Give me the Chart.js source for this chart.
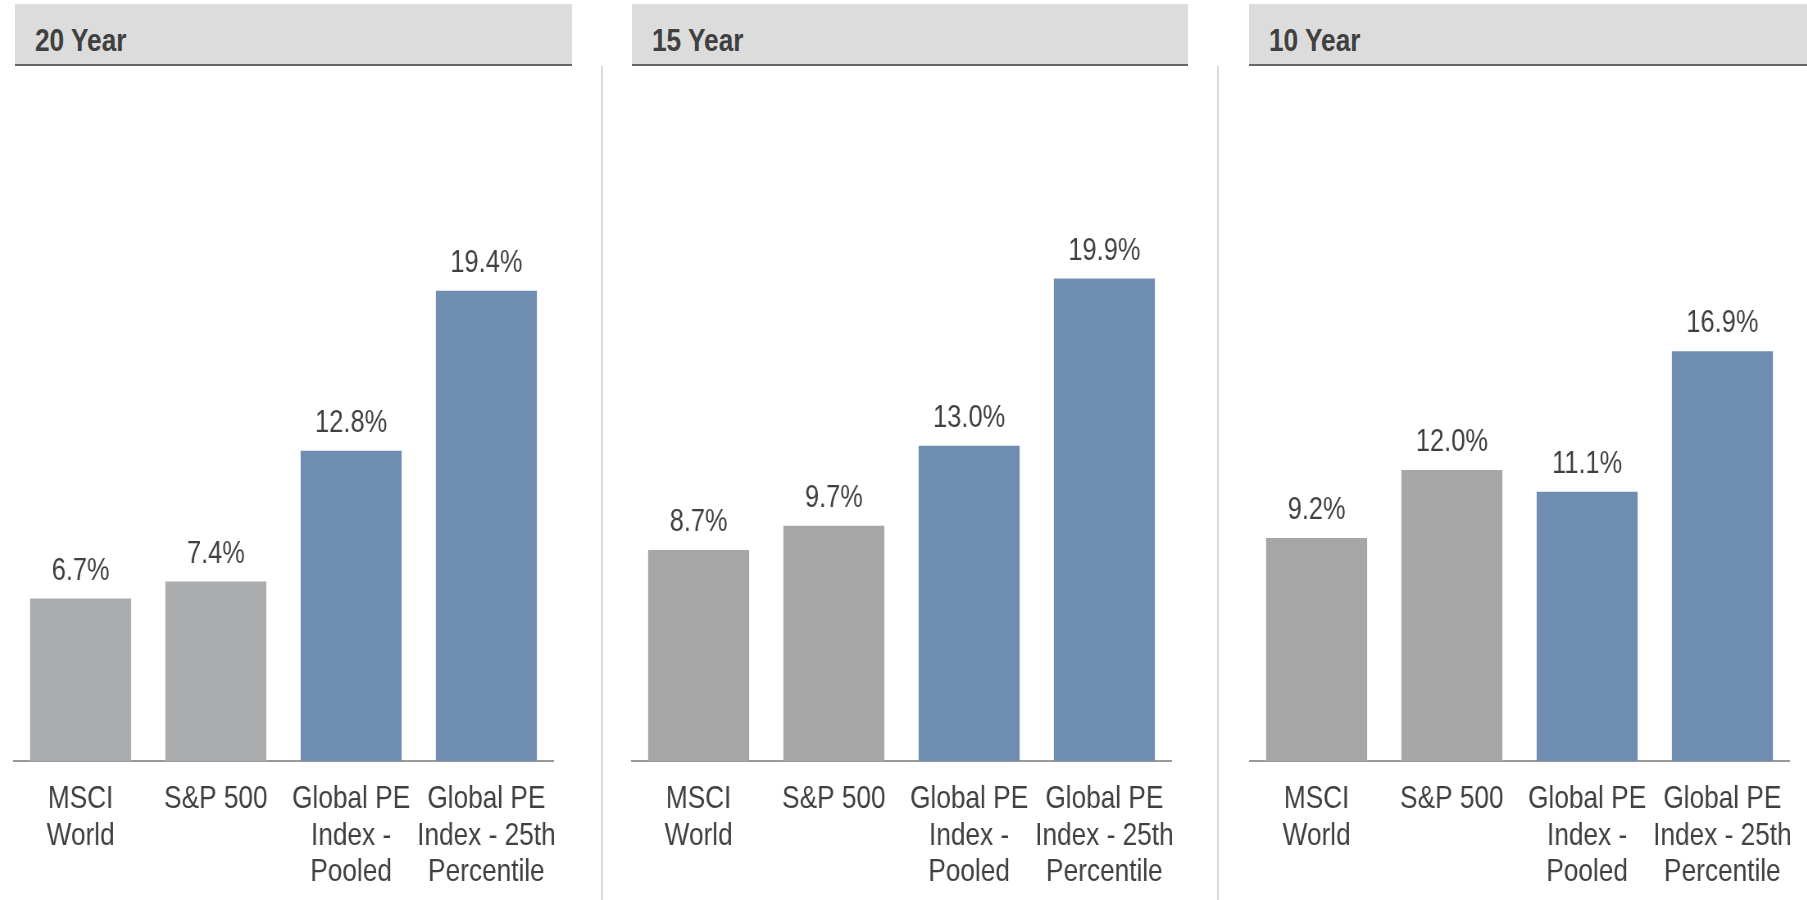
<!DOCTYPE html>
<html>
<head>
<meta charset="utf-8">
<script src="https://cdn.jsdelivr.net/npm/chart.js@4/dist/chart.umd.min.js"></script>
<style>
  html, body { margin: 0; padding: 0; background: #ffffff; width: 1807px; height: 900px; overflow: hidden; }
  .hdr { position: absolute; top: 4px; height: 60px; background: #dcdcdc; border-bottom: 2px solid #666666; }
  .hdr span { position: absolute; left: 20px; top: 20px; font-weight: bold; font-size: 32px; line-height: 32px;
              font-family: 'Liberation Sans Narrow', 'Arial Narrow', 'Liberation Sans', Arial, sans-serif; color: #404040;
              white-space: nowrap; transform: scaleX(0.82); transform-origin: 0 0; }
  .sep { position: absolute; top: 66px; width: 2px; height: 834px; background: #dadada; }
  canvas.cv { position: absolute; top: 70px; }
</style>
</head>
<body>
<div class="hdr" style="left:15px;width:557px;"><span id="h0"></span></div>
<div class="hdr" style="left:632px;width:556px;"><span id="h1"></span></div>
<div class="hdr" style="left:1249px;width:558px;"><span id="h2"></span></div>
<div class="sep" style="left:601px;"></div>
<div class="sep" style="left:1217px;"></div>
<!-- internal canvas is wider and squeezed horizontally by CSS so the Arial-like text renders condensed (Arial Narrow look) -->
<canvas class="cv" id="c0" width="660" height="830" style="left:13px;width:541px;height:830px;"></canvas>
<canvas class="cv" id="c1" width="660" height="830" style="left:631px;width:541px;height:830px;"></canvas>
<canvas class="cv" id="c2" width="660" height="830" style="left:1249px;width:541px;height:830px;"></canvas>
<script>
// ---- data ----
const periods = ['20 Year', '15 Year', '10 Year'];
const categories = [
  ['MSCI', 'World'],
  ['S&P 500'],
  ['Global PE', 'Index -', 'Pooled'],
  ['Global PE', 'Index - 25th', 'Percentile']
];
const values20 = [6.7, 7.4, 12.8, 19.4];
const values15 = [8.7, 9.7, 13.0, 19.9];
const values10 = [9.2, 12.0, 11.1, 16.9];

// ---- style ----
const FONT = "'Liberation Sans Narrow', 'Arial Narrow', 'Liberation Sans', Arial, sans-serif";
const TEXT = '#404040';
const BLUE = '#6e8db1';
const panelGrays = ['#abacae', '#a6a6a6', '#a6a6a6'];
const CANVAS_H = 830;
const PLOT_H = 691;   // chart area height (top of canvas to baseline)
const Y_MAX = 28.5;

const valueLabels = {
  id: 'valueLabels',
  afterDatasetsDraw(chart) {
    const ctx = chart.ctx;
    const meta = chart.getDatasetMeta(0);
    const data = chart.data.datasets[0].data;
    ctx.save();
    ctx.font = '31px ' + FONT;
    ctx.fillStyle = TEXT;
    ctx.textAlign = 'center';
    ctx.textBaseline = 'alphabetic';
    meta.data.forEach((bar, i) => {
      ctx.fillText(data[i].toFixed(1) + '%', bar.x, bar.y - 19);
    });
    ctx.restore();
  }
};

function makeChart(id, values, gray) {
  return new Chart(document.getElementById(id), {
    type: 'bar',
    data: {
      labels: categories,
      datasets: [{
        data: values,
        backgroundColor: [gray, gray, BLUE, BLUE],
        borderWidth: 0,
        barPercentage: 0.747,
        categoryPercentage: 1.0
      }]
    },
    options: {
      responsive: false,
      maintainAspectRatio: false,
      animation: false,
      devicePixelRatio: 1,
      layout: { padding: 0 },
      plugins: { legend: { display: false }, tooltip: { enabled: false } },
      scales: {
        x: {
          grid: { display: false, drawTicks: false },
          border: { display: true, color: '#9a9a9a', width: 2 },
          ticks: {
            color: TEXT,
            font: { family: FONT, size: 32, lineHeight: 1.14 },
            padding: 20,
            maxRotation: 0,
            minRotation: 0,
            autoSkip: false
          },
          afterFit(scale) {
            scale.height = CANVAS_H - PLOT_H;
            scale.paddingLeft = 0;
            scale.paddingRight = 0;
          }
        },
        y: { display: false, min: 0, max: Y_MAX }
      }
    },
    plugins: [valueLabels]
  });
}

periods.forEach((p, i) => { document.getElementById('h' + i).textContent = p; });
makeChart('c0', values20, panelGrays[0]);
makeChart('c1', values15, panelGrays[1]);
makeChart('c2', values10, panelGrays[2]);
</script>
</body>
</html>
